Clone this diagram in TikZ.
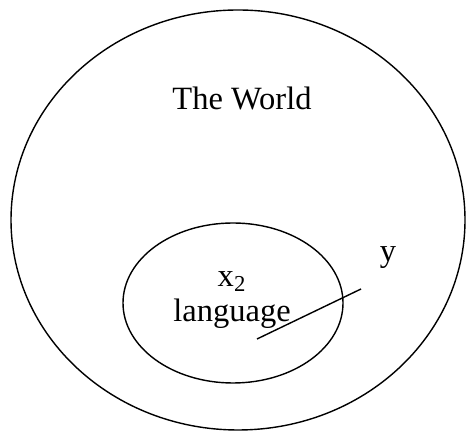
\documentclass[tikz,border=0pt]{standalone}
\usepackage{fontspec}
\setmainfont{Liberation Serif}
\usepackage{tikz}
\usetikzlibrary{shapes.geometric}

\begin{document}
\begin{tikzpicture}[font=\fontsize{18.5}{22}\selectfont,line width=.8pt,
 blob/.style={ellipse,draw,inner sep=0pt},
 lbl/.style={anchor=base,inner sep=0pt}]
\useasboundingbox (0,0) rectangle (9.36,8.64);
\node[blob,minimum width=9.08cm,minimum height=8.4cm] (world) at (4.76,4.24) {};
\node[blob,minimum width=4.4cm,minimum height=3.2cm] (lang) at (4.66,2.58) {};
\node[lbl] (wtxt) at (4.84,6.44) {The World};
\node[lbl] (x2) at (4.64,2.9) {x\textsubscript{2}};
\node[lbl] (ltxt) at (4.64,2.2) {language};
\node[lbl] (y) at (7.76,3.4) {y};
\coordinate (yin) at (5.14,1.86);
\coordinate (yout) at (7.22,2.86);
\draw (yin)--(yout);
\end{tikzpicture}
\end{document}
